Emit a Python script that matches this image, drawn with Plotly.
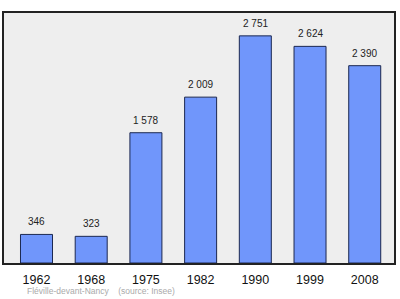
import plotly.graph_objects as go

years = ["1962", "1968", "1975", "1982", "1990", "1999", "2008"]
population = [346, 323, 1578, 2009, 2751, 2624, 2390]
labels = ["346", "323", "1 578", "2 009", "2 751", "2 624", "2 390"]
source_text = "Fléville-devant-Nancy    (source: Insee)"

xs = list(range(len(years)))

fig = go.Figure()
fig.add_trace(go.Bar(
    x=xs, y=population, width=0.585,
    marker=dict(color="#7096fb", line=dict(color="#1c2850", width=1)),
    hoverinfo="skip",
))

for xi, v, t in zip(xs, population, labels):
    fig.add_annotation(x=xi, y=v, text=t, showarrow=False, yanchor="bottom",
                       yshift=5, font=dict(size=10, color="#222222",
                                           family="Liberation Sans, Arial, sans-serif"))

fig.add_annotation(x=25, y=291, xref="x domain", yref="paper", text=source_text,
                   showarrow=False)
fig.layout.annotations = list(fig.layout.annotations)[:-1]
fig.add_annotation(x=0.0, y=0.0, xref="paper", yref="paper", text=source_text,
                   showarrow=False, xanchor="left", yanchor="middle",
                   xshift=21, yshift=-28,
                   font=dict(size=8.5, color="#aaaaaa",
                             family="Liberation Sans, Arial, sans-serif"))

fig.update_layout(
    width=400, height=299,
    margin=dict(l=4, r=6, t=13, b=36, pad=0),
    paper_bgcolor="white", plot_bgcolor="#eeeeee",
    showlegend=False,
    font=dict(family="Liberation Sans, Arial, sans-serif", color="#111111"),
    bargap=0.4,
)
fig.update_xaxes(range=[-0.594, 6.535], tickvals=xs, ticktext=years,
                 tickfont=dict(size=12.5, color="#111111"),
                 ticks="outside", ticklen=4, tickcolor="rgba(0,0,0,0)",
                 showgrid=False, zeroline=False,
                 showline=True, linecolor="#222222", linewidth=1.5, mirror=True,
                 fixedrange=True)
fig.update_yaxes(range=[0, 3028], showticklabels=False, showgrid=False,
                 zeroline=False, showline=True, linecolor="#222222",
                 linewidth=1.5, mirror=True, fixedrange=True)

fig.write_html("out.html")
